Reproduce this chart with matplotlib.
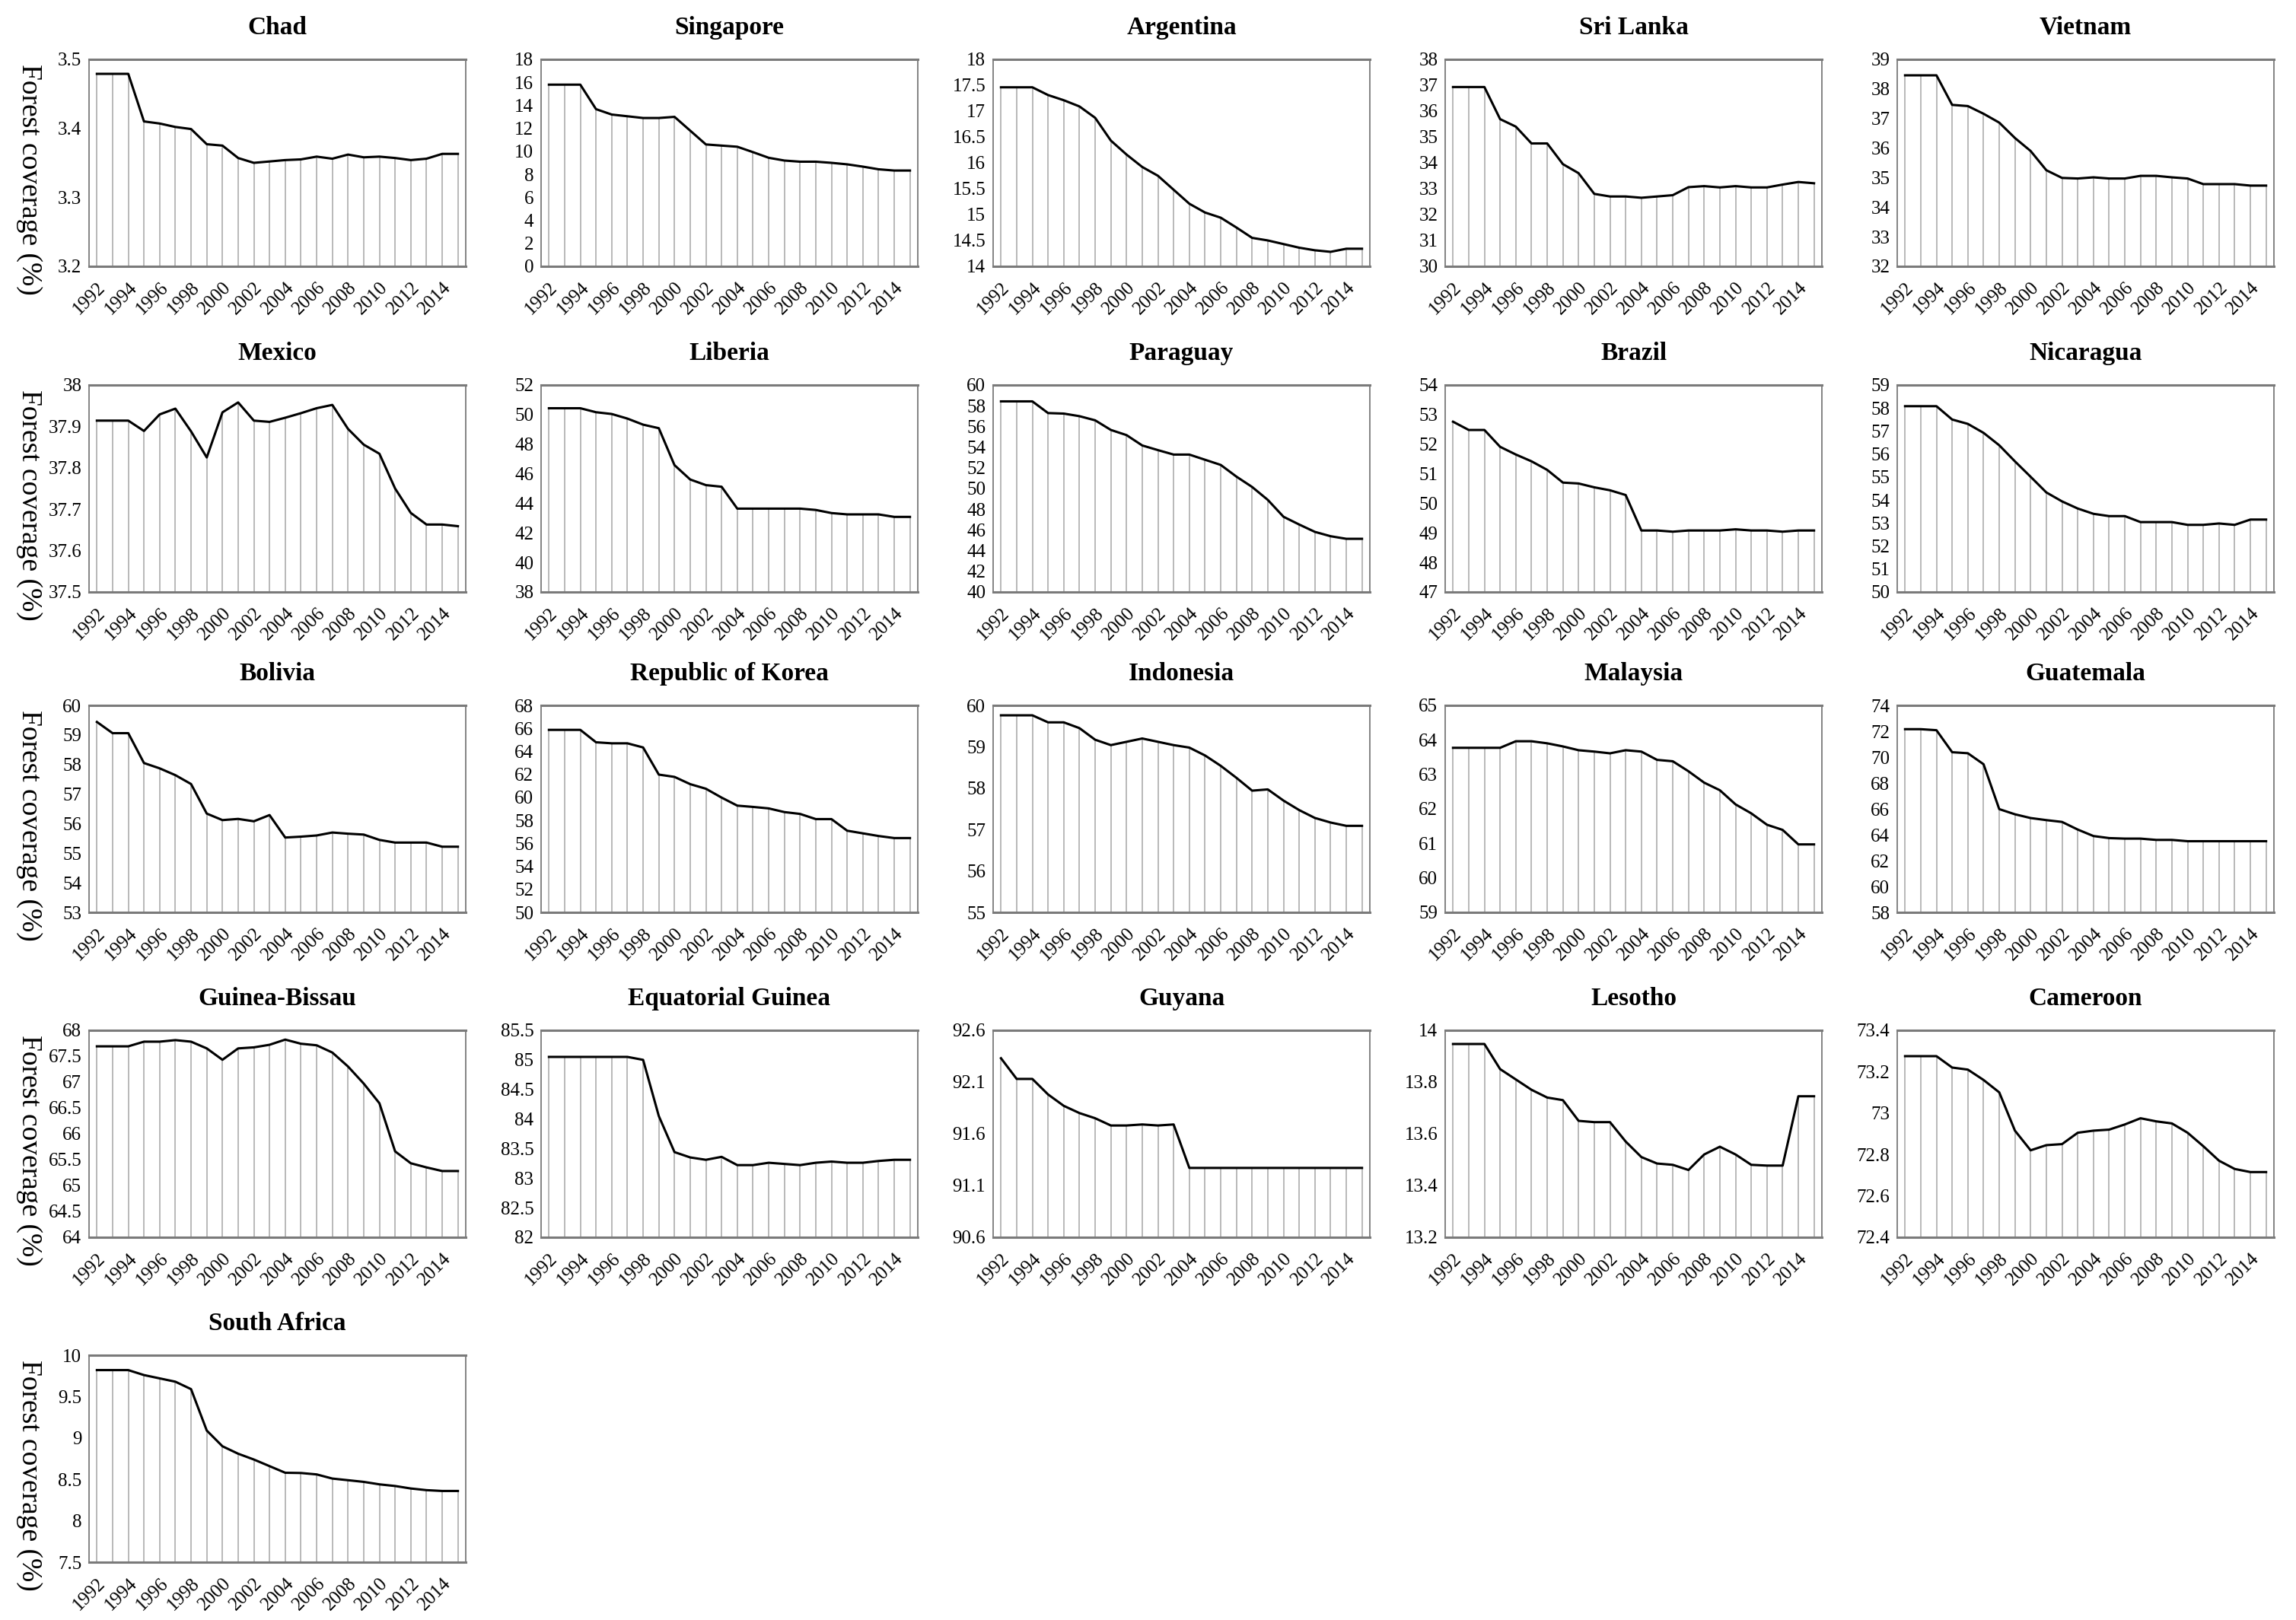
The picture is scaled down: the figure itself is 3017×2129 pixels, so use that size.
import numpy as np
import matplotlib
matplotlib.use("Agg")
import matplotlib.pyplot as plt
from matplotlib.ticker import FuncFormatter

plt.rcParams['font.family'] = ['Liberation Serif', 'DejaVu Serif']

years = list(range(1992, 2016))

countries = ["Chad", "Singapore", "Argentina", "Sri Lanka", "Vietnam",
             "Mexico", "Liberia", "Paraguay", "Brazil", "Nicaragua",
             "Bolivia", "Republic of Korea", "Indonesia", "Malaysia", "Guatemala",
             "Guinea-Bissau", "Equatorial Guinea", "Guyana", "Lesotho", "Cameroon",
             "South Africa"]

chad = [3.479, 3.479, 3.479, 3.410, 3.407, 3.402, 3.399, 3.377, 3.375, 3.357, 3.350, 3.352,
        3.354, 3.355, 3.359, 3.356, 3.362, 3.358, 3.359, 3.357, 3.354, 3.356, 3.363, 3.363]
singapore = [15.8, 15.8, 15.8, 13.67, 13.2, 13.05, 12.9, 12.9, 13.0, 11.8, 10.6, 10.5,
             10.4, 9.93, 9.44, 9.2, 9.1, 9.1, 9.0, 8.87, 8.67, 8.44, 8.33, 8.33]
argentina = [17.46, 17.46, 17.46, 17.31, 17.21, 17.09, 16.87, 16.43, 16.16, 15.92, 15.75, 15.48,
             15.21, 15.04, 14.94, 14.75, 14.55, 14.50, 14.43, 14.36, 14.31, 14.28, 14.34, 14.34]
sri_lanka = [36.93, 36.93, 36.93, 35.69, 35.4, 34.75, 34.75, 33.95, 33.6, 32.8, 32.7, 32.7,
             32.65, 32.7, 32.75, 33.06, 33.1, 33.05, 33.1, 33.05, 33.05, 33.16, 33.26, 33.21]
vietnam = [38.46, 38.46, 38.46, 37.46, 37.42, 37.16, 36.86, 36.34, 35.9, 35.25, 34.99, 34.97,
           35.01, 34.97, 34.97, 35.06, 35.06, 35.01, 34.97, 34.78, 34.78, 34.78, 34.73, 34.73]
mexico = [37.914, 37.914, 37.914, 37.889, 37.929, 37.943, 37.888, 37.825, 37.934, 37.958, 37.914, 37.911,
          37.921, 37.932, 37.944, 37.952, 37.894, 37.856, 37.834, 37.75, 37.691, 37.663, 37.663, 37.659]
liberia = [50.43, 50.43, 50.43, 50.16, 50.04, 49.73, 49.32, 49.08, 46.58, 45.61, 45.23, 45.12,
           43.64, 43.64, 43.64, 43.64, 43.64, 43.55, 43.34, 43.25, 43.25, 43.25, 43.08, 43.08]
paraguay = [58.42, 58.42, 58.42, 57.29, 57.24, 56.99, 56.59, 55.66, 55.16, 54.16, 53.71, 53.28,
            53.28, 52.78, 52.28, 51.15, 50.15, 48.9, 47.27, 46.52, 45.81, 45.39, 45.14, 45.14]
brazil = [52.76, 52.48, 52.48, 51.91, 51.65, 51.42, 51.13, 50.70, 50.67, 50.54, 50.44, 50.28,
          49.08, 49.08, 49.04, 49.08, 49.08, 49.08, 49.12, 49.08, 49.08, 49.04, 49.08, 49.08]
nicaragua = [58.08, 58.08, 58.08, 57.5, 57.31, 56.92, 56.38, 55.68, 55.01, 54.33, 53.94, 53.63,
             53.40, 53.3, 53.3, 53.04, 53.04, 53.04, 52.92, 52.92, 52.98, 52.92, 53.15, 53.15]
bolivia = [59.44, 59.06, 59.06, 58.05, 57.87, 57.64, 57.34, 56.34, 56.12, 56.16, 56.08, 56.29,
           55.53, 55.56, 55.6, 55.7, 55.66, 55.63, 55.45, 55.36, 55.36, 55.36, 55.22, 55.22]
korea = [65.87, 65.87, 65.87, 64.79, 64.7, 64.7, 64.34, 61.98, 61.78, 61.15, 60.75, 59.98,
         59.28, 59.17, 59.04, 58.72, 58.56, 58.11, 58.11, 57.1, 56.87, 56.64, 56.46, 56.46]
indonesia = [59.76, 59.76, 59.76, 59.59, 59.59, 59.45, 59.17, 59.04, 59.12, 59.2, 59.12, 59.04,
             58.98, 58.79, 58.54, 58.25, 57.94, 57.97, 57.70, 57.47, 57.28, 57.17, 57.09, 57.09]
malaysia = [63.77, 63.77, 63.77, 63.77, 63.96, 63.96, 63.9, 63.81, 63.7, 63.66, 63.61, 63.7,
            63.66, 63.42, 63.38, 63.09, 62.76, 62.54, 62.13, 61.87, 61.54, 61.39, 60.97, 60.97]
guatemala = [72.16, 72.16, 72.08, 70.38, 70.3, 69.45, 65.98, 65.58, 65.29, 65.13, 64.99, 64.4,
             63.9, 63.74, 63.7, 63.7, 63.6, 63.6, 63.5, 63.5, 63.5, 63.5, 63.5, 63.5]
guinea_bissau = [67.69, 67.69, 67.69, 67.78, 67.78, 67.81, 67.78, 67.65, 67.43, 67.65, 67.67, 67.72,
                 67.82, 67.74, 67.71, 67.57, 67.30, 66.97, 66.59, 65.66, 65.43, 65.35, 65.28, 65.28]
eq_guinea = [85.05, 85.05, 85.05, 85.05, 85.05, 85.05, 85.0, 84.05, 83.44, 83.35, 83.31, 83.36,
             83.22, 83.22, 83.26, 83.24, 83.22, 83.26, 83.28, 83.26, 83.26, 83.29, 83.31, 83.31]
guyana = [92.33, 92.13, 92.13, 91.98, 91.87, 91.8, 91.75, 91.68, 91.68, 91.69, 91.68, 91.69,
          91.27, 91.27, 91.27, 91.27, 91.27, 91.27, 91.27, 91.27, 91.27, 91.27, 91.27, 91.27]
lesotho = [13.947, 13.947, 13.947, 13.85, 13.81, 13.77, 13.74, 13.73, 13.65, 13.645, 13.645, 13.57,
           13.51, 13.485, 13.48, 13.46, 13.52, 13.55, 13.52, 13.48, 13.477, 13.477, 13.745, 13.745]
cameroon = [73.275, 73.275, 73.275, 73.22, 73.21, 73.16, 73.10, 72.915, 72.82, 72.845, 72.85, 72.905,
            72.915, 72.92, 72.945, 72.975, 72.96, 72.95, 72.905, 72.84, 72.77, 72.73, 72.715, 72.715]
south_africa = [9.82, 9.82, 9.82, 9.76, 9.72, 9.68, 9.59, 9.09, 8.90, 8.81, 8.74, 8.66,
                8.58, 8.577, 8.56, 8.51, 8.49, 8.47, 8.44, 8.42, 8.39, 8.37, 8.36, 8.36]

series = [chad, singapore, argentina, sri_lanka, vietnam,
          mexico, liberia, paraguay, brazil, nicaragua,
          bolivia, korea, indonesia, malaysia, guatemala,
          guinea_bissau, eq_guinea, guyana, lesotho, cameroon,
          south_africa]

# y axis (min, max, step) per panel
y_ranges = [(3.2, 3.5, 0.1), (0, 18, 2), (14, 18, 0.5), (30, 38, 1), (32, 39, 1),
            (37.5, 38, 0.1), (38, 52, 2), (40, 60, 2), (47, 54, 1), (50, 59, 1),
            (53, 60, 1), (50, 68, 2), (55, 60, 1), (59, 65, 1), (58, 74, 2),
            (64, 68, 0.5), (82, 85.5, 0.5), (90.6, 92.6, 0.5), (13.2, 14, 0.2), (72.4, 73.4, 0.2),
            (7.5, 10, 0.5)]

W, H = 3017, 2129
fig = plt.figure(figsize=(W / 100, H / 100), dpi=100)

row_tops = [78, 506, 927, 1354, 1781]
ax_w, ax_h = 495, 272

for i, (name, vals, (y0, y1, st)) in enumerate(zip(countries, series, y_ranges)):
    r, c = divmod(i, 5)
    left = 117 + c * 594
    top = row_tops[r]
    ax = fig.add_axes([left / W, 1 - (top + ax_h) / H, ax_w / W, ax_h / H])
    ax.vlines(years, y0, vals, color="#b3b3b3", lw=1.3, zorder=1)
    ax.plot(years, vals, color="black", lw=2.2, zorder=2)
    ax.set_xlim(1991.5, 2015.5)
    ax.set_ylim(y0, y1)
    ticks = np.round(np.arange(y0, y1 + st / 2, st), 3)
    ax.set_yticks(ticks)
    ax.yaxis.set_major_formatter(FuncFormatter(lambda v, p: f"{v:g}"))
    ax.set_xticks(years[::2])
    ax.set_xticklabels([str(y) for y in years[::2]], rotation=45, ha="right",
                       rotation_mode="anchor")
    ax.tick_params(length=0, labelsize=18, pad=7)
    ax.tick_params(axis="x", pad=12)
    for s in ["left", "right"]:
        ax.spines[s].set_color("#6e6e6e")
        ax.spines[s].set_linewidth(1.2)
    for s in ["top", "bottom"]:
        ax.spines[s].set_color("#7a7a7a")
        ax.spines[s].set_linewidth(2.2)
    ax.set_title(name, fontsize=24, fontweight="bold", pad=24)
    if c == 0:
        fig.text(38 / W, 1 - (top + ax_h / 2 + 22) / H, "Forest coverage (%)",
                 rotation=270, fontsize=27, ha="center", va="center")

fig.savefig("out.png", dpi=100)
